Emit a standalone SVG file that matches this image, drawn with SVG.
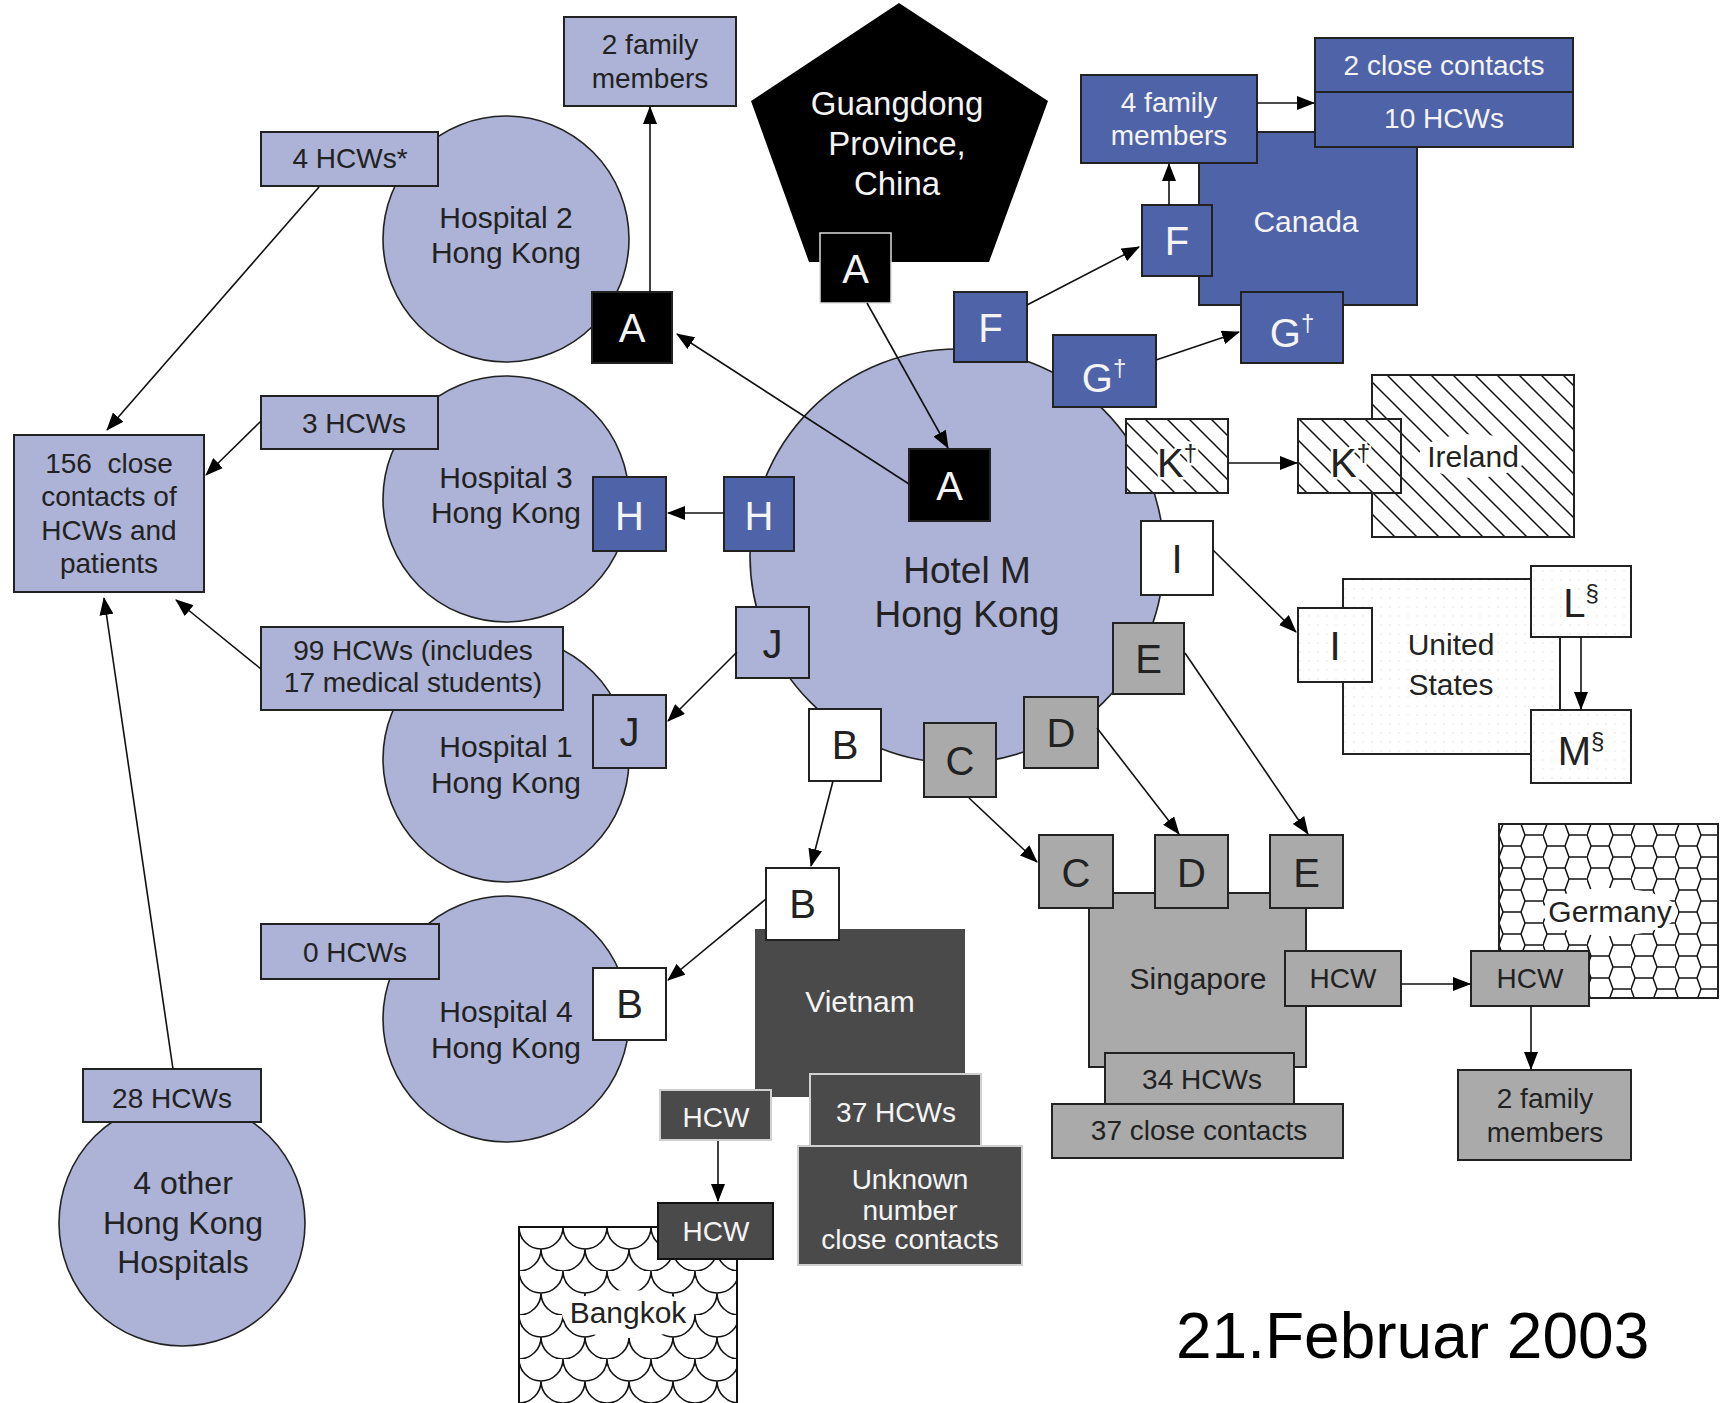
<svg xmlns="http://www.w3.org/2000/svg" width="1725" height="1403" viewBox="0 0 1725 1403">
<style>
.lb{fill:#acb3d6;stroke:#222;stroke-width:2}
.ci{fill:#acb3d6;stroke:#222;stroke-width:1.6}
.db{fill:#4f63a8;stroke:#222;stroke-width:2}
.gr{fill:#aaaaaa;stroke:#222;stroke-width:2}
.dk{fill:#4a4a4a;stroke:#d0d0d0;stroke-width:2}
.wh{fill:#fff;stroke:#222;stroke-width:2}
.bk{fill:#000;stroke:#222;stroke-width:2}
.t{font-family:"Liberation Sans",Arial,sans-serif;font-size:28px;fill:#222;text-anchor:middle}
.w{fill:#f4f4f4}
.L{font-size:40px}
.sup{font-size:24px}
.conn line{stroke:#111;stroke-width:1.6;marker-end:url(#ah)}
</style>
<defs>
<marker id="ah" markerWidth="18" markerHeight="14" refX="17" refY="7" orient="auto" markerUnits="userSpaceOnUse"><path d="M0,0 L18,7 L0,14 Z" fill="#000"/></marker>
<pattern id="hatch" patternUnits="userSpaceOnUse" width="22" height="22"><rect width="22" height="22" fill="#fff"/><path d="M0,0 L22,22 M-3,19 L3,25 M19,-3 L25,3" stroke="#111" stroke-width="1.5"/></pattern>
<pattern id="scales" patternUnits="userSpaceOnUse" x="519" y="1227" width="44" height="44"><rect width="44" height="44" fill="#fff"/><path d="M0,0 A22,22 0 0 0 44,0 M-22,22 A22,22 0 0 0 22,22 M22,22 A22,22 0 0 0 66,22 M0,44 A22,22 0 0 0 44,44" fill="none" stroke="#111" stroke-width="1.6"/></pattern>
<pattern id="hex" patternUnits="userSpaceOnUse" x="1499" y="824" width="44" height="22"><rect width="44" height="22" fill="#fff"/><path d="M0,11 L4,0 L22,0 L26,11 L22,22 L4,22 Z M26,11 L44,11" fill="none" stroke="#111" stroke-width="1.5"/></pattern>
<pattern id="dots" patternUnits="userSpaceOnUse" width="9" height="9"><rect width="9" height="9" fill="#fff"/><circle cx="4" cy="4" r="0.8" fill="#e2e2e2"/></pattern>
</defs>
<rect width="1725" height="1403" fill="#fff"/>

<!-- Hospitals -->
<g id="hospital2"><circle class="ci" cx="506" cy="239" r="123"/><text class="t" style="font-size:30px" x="506" y="228">Hospital 2</text><text class="t" style="font-size:30px" x="506" y="263">Hong Kong</text></g>
<g id="hospital3"><circle class="ci" cx="506" cy="499" r="123"/><text class="t" style="font-size:30px" x="506" y="488">Hospital 3</text><text class="t" style="font-size:30px" x="506" y="523">Hong Kong</text></g>
<g id="hospital1"><circle class="ci" cx="506" cy="759" r="123"/><text class="t" style="font-size:30px" x="506" y="757">Hospital 1</text><text class="t" style="font-size:30px" x="506" y="793">Hong Kong</text></g>
<g id="hospital4"><circle class="ci" cx="506" cy="1019" r="123"/><text class="t" style="font-size:30px" x="506" y="1022">Hospital 4</text><text class="t" style="font-size:30px" x="506" y="1058">Hong Kong</text></g>
<g id="other-hospitals"><circle class="ci" cx="182" cy="1223" r="123"/><text class="t" style="font-size:32px" x="183" y="1194">4 other</text><text class="t" style="font-size:32px" x="183" y="1234">Hong Kong</text><text class="t" style="font-size:32px" x="183" y="1273">Hospitals</text></g>

<!-- label boxes -->
<g id="family-top"><rect class="lb" x="564" y="17" width="172" height="89"/><text class="t" x="650" y="54">2 family</text><text class="t" x="650" y="88">members</text></g>
<g id="hcw4"><rect class="lb" x="261" y="132" width="177" height="54"/><text class="t" x="350" y="168">4 HCWs*</text></g>
<g id="hcw3"><rect class="lb" x="261" y="396" width="177" height="53"/><text class="t" x="354" y="433">3 HCWs</text></g>
<g id="hcw99"><rect class="lb" x="261" y="627" width="302" height="83"/><text class="t" x="413" y="660">99 HCWs (includes</text><text class="t" x="413" y="692">17 medical students)</text></g>
<g id="hcw0"><rect class="lb" x="261" y="924" width="178" height="55"/><text class="t" x="355" y="962">0 HCWs</text></g>
<g id="hcw28"><rect class="lb" x="83" y="1069" width="178" height="53"/><text class="t" x="172" y="1108">28 HCWs</text></g>
<g id="contacts156"><rect class="lb" x="14" y="435" width="190" height="157"/><text class="t" x="109" y="473" xml:space="preserve">156  close</text><text class="t" x="109" y="506">contacts of</text><text class="t" x="109" y="540">HCWs and</text><text class="t" x="109" y="573">patients</text></g>

<!-- Guangdong -->
<g id="guangdong"><polygon points="899,3 1048,101 989,262 809,262 751,101" fill="#000"/><text class="t w" style="font-size:33px" x="897" y="115">Guangdong</text><text class="t w" style="font-size:33px" x="897" y="155">Province,</text><text class="t w" style="font-size:33px" x="897" y="195">China</text></g>
<g id="A-guangdong"><rect x="820" y="233" width="71" height="70" fill="#000" stroke="#ddd" stroke-width="1.5"/><text class="t w L" x="855.5" y="283">A</text></g>

<!-- Hotel M -->
<g id="hotelM"><circle class="ci" cx="957" cy="556" r="207"/><text class="t" style="font-size:37px" x="967" y="583">Hotel M</text><text class="t" style="font-size:37px" x="967" y="627">Hong Kong</text></g>

<!-- Canada -->
<g id="canada"><rect class="db" x="1199" y="132" width="218" height="173"/><text class="t w" style="font-size:30px" x="1306" y="232">Canada</text></g>
<g id="family4"><rect class="db" x="1081" y="75" width="176" height="88"/><text class="t w" x="1169" y="112">4 family</text><text class="t w" x="1169" y="145">members</text></g>
<g id="close2"><rect class="db" x="1315" y="38" width="258" height="54"/><text class="t w" x="1444" y="75">2 close contacts</text></g>
<g id="hcw10"><rect class="db" x="1315" y="92" width="258" height="55"/><text class="t w" x="1444" y="128">10 HCWs</text></g>
<g id="F-canada"><rect class="db" x="1142" y="205" width="70" height="71"/><text class="t w L" x="1177" y="255">F</text></g>
<g id="G-canada"><rect class="db" x="1241" y="292" width="102" height="71"/><text class="t w L" x="1292" y="347">G<tspan class="sup" dy="-16">†</tspan></text></g>

<!-- Ireland -->
<g id="ireland"><rect x="1372" y="375" width="202" height="162" fill="url(#hatch)" stroke="#222" stroke-width="2"/><ellipse cx="1473" cy="456" rx="54" ry="22" fill="#fff"/><text class="t" style="font-size:30px" x="1473" y="467">Ireland</text></g>
<g id="K-ireland"><rect x="1298" y="419" width="103" height="74" fill="url(#hatch)" stroke="#222" stroke-width="2"/><text class="t L" x="1350" y="477" style="stroke:#fff;stroke-width:5;paint-order:stroke">K<tspan class="sup" dy="-16">†</tspan></text></g>

<!-- United States -->
<g id="usa"><rect x="1343" y="579" width="217" height="175" fill="url(#dots)" stroke="#222" stroke-width="2"/><text class="t" style="font-size:30px" x="1451" y="655">United</text><text class="t" style="font-size:30px" x="1451" y="695">States</text></g>
<g id="I-usa"><rect x="1298" y="608" width="74" height="74" fill="url(#dots)" stroke="#222" stroke-width="2"/><text class="t L" x="1335" y="660">I</text></g>
<g id="L-usa"><rect x="1531" y="566" width="100" height="71" fill="url(#dots)" stroke="#222" stroke-width="2"/><text class="t L" x="1581" y="617">L<tspan class="sup" dy="-16">§</tspan></text></g>
<g id="M-usa"><rect x="1531" y="710" width="100" height="73" fill="url(#dots)" stroke="#222" stroke-width="2"/><text class="t L" x="1581" y="765">M<tspan class="sup" dy="-16">§</tspan></text></g>

<!-- Singapore -->
<g id="singapore"><rect class="gr" x="1089" y="893" width="217" height="174"/><text class="t" style="font-size:30px" x="1198" y="989">Singapore</text></g>
<g id="C-sing"><rect class="gr" x="1039" y="835" width="74" height="73"/><text class="t L" x="1076" y="887">C</text></g>
<g id="D-sing"><rect class="gr" x="1155" y="835" width="73" height="73"/><text class="t L" x="1191.5" y="887">D</text></g>
<g id="E-sing"><rect class="gr" x="1270" y="835" width="73" height="73"/><text class="t L" x="1306.5" y="887">E</text></g>
<g id="hcw-sing"><rect class="gr" x="1285" y="951" width="116" height="55"/><text class="t" x="1343" y="988">HCW</text></g>
<g id="close37"><rect class="gr" x="1052" y="1104" width="291" height="54"/><text class="t" x="1199" y="1140">37 close contacts</text></g>
<g id="hcw34"><rect class="gr" x="1105" y="1053" width="189" height="51"/><text class="t" x="1202" y="1089">34 HCWs</text></g>

<!-- Germany -->
<g id="germany"><rect x="1499" y="824" width="219" height="174" fill="url(#hex)" stroke="#222" stroke-width="2"/><ellipse cx="1610" cy="912" rx="68" ry="24" fill="#fff"/><text class="t" style="font-size:30px" x="1610" y="922">Germany</text></g>
<g id="hcw-germany"><rect class="gr" x="1471" y="951" width="118" height="55"/><text class="t" x="1530" y="988">HCW</text></g>
<g id="family2-germany"><rect class="gr" x="1458" y="1070" width="173" height="90"/><text class="t" x="1545" y="1108">2 family</text><text class="t" x="1545" y="1142">members</text></g>

<!-- Vietnam -->
<g id="vietnam"><rect x="755" y="929" width="210" height="168" fill="#4a4a4a"/><text class="t w" style="font-size:30px" x="860" y="1012">Vietnam</text></g>
<g id="B-vietnam"><rect class="wh" x="766" y="868" width="73" height="72"/><text class="t L" x="802.5" y="918">B</text></g>
<g id="hcw37"><rect class="dk" x="810" y="1074" width="171" height="72"/><text class="t w" x="896" y="1122">37 HCWs</text></g>
<g id="unknown"><rect class="dk" x="798" y="1146" width="224" height="119"/><text class="t w" x="910" y="1189">Unknown</text><text class="t w" x="910" y="1220">number</text><text class="t w" x="910" y="1249">close contacts</text></g>
<g id="hcw-vietnam"><rect class="dk" x="660" y="1090" width="111" height="50"/><text class="t w" x="716" y="1127">HCW</text></g>

<!-- Bangkok -->
<g id="bangkok"><rect x="519" y="1227" width="218" height="190" fill="url(#scales)" stroke="#111" stroke-width="2"/><ellipse cx="628" cy="1314" rx="66" ry="24" fill="#fff"/><text class="t" style="font-size:30px" x="628" y="1323">Bangkok</text></g>
<g id="hcw-bangkok"><rect x="658" y="1203" width="115" height="56" fill="#4a4a4a" stroke="#111" stroke-width="2"/><text class="t w" x="716" y="1241">HCW</text></g>

<!-- Letter boxes -->
<g id="A-hosp2"><rect class="bk" x="592" y="292" width="80" height="71"/><text class="t w L" x="632" y="342">A</text></g>
<g id="H-hosp3"><rect class="db" x="593" y="477" width="73" height="74"/><text class="t w L" x="629.5" y="530">H</text></g>
<g id="J-hosp1"><rect class="lb" x="593" y="695" width="73" height="73"/><text class="t L" x="629.5" y="746">J</text></g>
<g id="B-hosp4"><rect class="wh" x="593" y="968" width="73" height="72"/><text class="t L" x="629.5" y="1018">B</text></g>

<g id="A-hotel"><rect class="bk" x="909" y="449" width="81" height="72"/><text class="t w L" x="949.5" y="500">A</text></g>
<g id="H-hotel"><rect class="db" x="724" y="477" width="70" height="74"/><text class="t w L" x="759" y="530">H</text></g>
<g id="J-hotel"><rect class="lb" x="736" y="607" width="73" height="71"/><text class="t L" x="772.5" y="658">J</text></g>
<g id="B-hotel"><rect class="wh" x="809" y="709" width="72" height="72"/><text class="t L" x="845" y="759">B</text></g>
<g id="C-hotel"><rect class="gr" x="924" y="723" width="72" height="74"/><text class="t L" x="960" y="775">C</text></g>
<g id="D-hotel"><rect class="gr" x="1024" y="697" width="74" height="71"/><text class="t L" x="1061" y="747">D</text></g>
<g id="E-hotel"><rect class="gr" x="1113" y="623" width="71" height="71"/><text class="t L" x="1148.5" y="673">E</text></g>
<g id="I-hotel"><rect class="wh" x="1141" y="521" width="72" height="74"/><text class="t L" x="1177" y="573">I</text></g>
<g id="K-hotel"><rect x="1126" y="419" width="102" height="74" fill="url(#hatch)" stroke="#222" stroke-width="2"/><text class="t L" x="1177" y="477" style="stroke:#fff;stroke-width:5;paint-order:stroke">K<tspan class="sup" dy="-16">†</tspan></text></g>
<g id="F-hotel"><rect class="db" x="954" y="292" width="73" height="70"/><text class="t w L" x="990.5" y="342">F</text></g>
<g id="G-hotel"><rect class="db" x="1053" y="335" width="103" height="72"/><text class="t w L" x="1104" y="392">G<tspan class="sup" dy="-16">†</tspan></text></g>

<!-- connectors -->
<g id="connectors" class="conn">
<line x1="650" y1="292" x2="650" y2="107"/>
<line x1="319" y1="187" x2="107" y2="430"/>
<line x1="261" y1="421" x2="206" y2="475"/>
<line x1="261" y1="669" x2="176" y2="600"/>
<line x1="173" y1="1069" x2="104" y2="598"/>
<line x1="909" y1="484" x2="677" y2="334"/>
<line x1="867" y1="303" x2="948" y2="448"/>
<line x1="724" y1="513" x2="668" y2="513"/>
<line x1="737" y1="652" x2="668" y2="721"/>
<line x1="833" y1="781" x2="811" y2="866"/>
<line x1="766" y1="899" x2="668" y2="980"/>
<line x1="718" y1="1141" x2="718" y2="1201"/>
<line x1="1027" y1="305" x2="1139" y2="247"/>
<line x1="1169" y1="205" x2="1169" y2="164"/>
<line x1="1257" y1="103" x2="1314" y2="103"/>
<line x1="1156" y1="360" x2="1239" y2="332"/>
<line x1="1228" y1="463" x2="1297" y2="463"/>
<line x1="1213" y1="550" x2="1296" y2="632"/>
<line x1="1581" y1="637" x2="1581" y2="709"/>
<line x1="969" y1="798" x2="1037" y2="862"/>
<line x1="1097" y1="728" x2="1179" y2="834"/>
<line x1="1185" y1="653" x2="1308" y2="834"/>
<line x1="1401" y1="984" x2="1470" y2="984"/>
<line x1="1531" y1="1006" x2="1531" y2="1069"/>
</g>

<text x="1176" y="1358" style="font-family:'Liberation Sans',Arial,sans-serif;font-size:64px;fill:#000">21.Februar 2003</text>
</svg>
